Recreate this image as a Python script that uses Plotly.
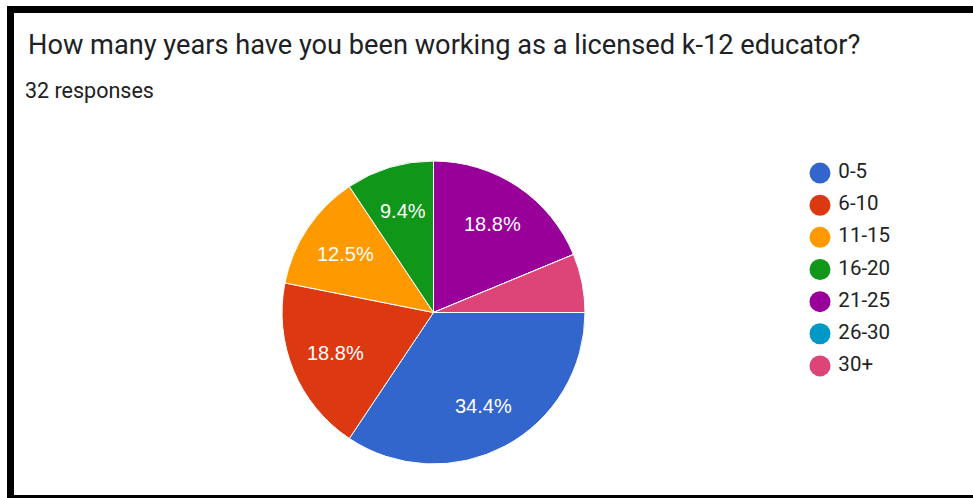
import math
import plotly.graph_objects as go

# Survey answers: years working as a licensed K-12 educator (32 responses)
categories = ["0-5", "6-10", "11-15", "16-20", "21-25", "26-30", "30+"]
counts = [11, 6, 4, 3, 6, 0, 2]
colors = ["#3366CC", "#DC3912", "#FF9900", "#109618", "#990099", "#0099C6", "#DD4477"]

title_text = "How many years have you been working as a licensed k-12 educator?"
subtitle_text = "32 responses"

W, H = 973, 498
total = sum(counts)

# Pie placement (pixels) and start angle (degrees clockwise from 12 o'clock)
pie_left, pie_right, pie_top, pie_bottom = 282, 585, 161, 464
start_angle = 90
label_radius_frac = 0.70

fig = go.Figure()

fig.add_trace(go.Pie(
    labels=categories,
    values=counts,
    sort=False,
    direction="clockwise",
    rotation=start_angle,
    marker=dict(colors=colors, line=dict(color="white", width=1)),
    textinfo="none",
    hoverinfo="label+percent",
    showlegend=False,
    domain=dict(x=[pie_left / W, pie_right / W], y=[1 - pie_bottom / H, 1 - pie_top / H]),
))

# Percent labels placed at each slice's mid-angle (skipping slivers)
cx = (pie_left + pie_right) / 2
cy = (pie_top + pie_bottom) / 2
radius = min(pie_right - pie_left, pie_bottom - pie_top) / 2
annotations = []
cum = 0
for cat, c in zip(categories, counts):
    share = c / total
    mid = start_angle + (cum + c / 2) / total * 360
    cum += c
    if share < 0.08:
        continue
    th = math.radians(mid)
    px = cx + label_radius_frac * radius * math.sin(th)
    py = cy - label_radius_frac * radius * math.cos(th)
    annotations.append(dict(
        text=f"{share * 100:.1f}%", x=px / W, y=1 - py / H, xref="paper", yref="paper",
        xanchor="center", yanchor="middle", showarrow=False,
        font=dict(family="Arial", size=20, color="white"),
    ))

# Legend drawn as a column of round markers with labels
idx = list(range(len(categories)))
fig.add_trace(go.Scatter(
    x=[0] * len(categories),
    y=idx,
    mode="markers",
    marker=dict(size=21, color=colors, line=dict(width=0)),
    cliponaxis=False,
    hoverinfo="skip",
    showlegend=False,
))
fig.add_trace(go.Scatter(
    x=[0.12] * len(categories),
    y=idx,
    mode="text",
    text=categories,
    textposition="middle right",
    textfont=dict(family="Roboto", size=20.5, color="#222222"),
    cliponaxis=False,
    hoverinfo="skip",
    showlegend=False,
))

annotations += [
    dict(text=title_text, x=26 / W, y=1 - 45 / H, xref="paper", yref="paper",
         xanchor="left", yanchor="middle", showarrow=False,
         font=dict(family="Roboto", size=27.2, color="#202124")),
    dict(text=subtitle_text, x=23 / W, y=1 - 90 / H, xref="paper", yref="paper",
         xanchor="left", yanchor="middle", showarrow=False,
         font=dict(family="Roboto", size=21.5, color="#202124")),
]

fig.update_layout(
    width=W,
    height=H,
    margin=dict(l=0, r=0, t=0, b=0),
    paper_bgcolor="white",
    plot_bgcolor="rgba(0,0,0,0)",
    xaxis=dict(domain=[820 / W, 1], range=[0, 1], visible=False, fixedrange=True),
    yaxis=dict(domain=[1 - 382 / H, 1 - 157 / H], range=[6.5, -0.5], visible=False, fixedrange=True),
    annotations=annotations,
    shapes=[
        # dark frame: top bar, left bar, thin bottom line
        dict(type="rect", xref="paper", yref="paper", x0=7 / W, x1=1, y0=1 - 13 / H, y1=1 - 6 / H,
             fillcolor="black", line=dict(width=0)),
        dict(type="rect", xref="paper", yref="paper", x0=7 / W, x1=14 / W, y0=0, y1=1 - 6 / H,
             fillcolor="black", line=dict(width=0)),
        dict(type="rect", xref="paper", yref="paper", x0=7 / W, x1=1, y0=0, y1=3 / H,
             fillcolor="black", line=dict(width=0)),
    ],
)

fig.write_html("out.html")
